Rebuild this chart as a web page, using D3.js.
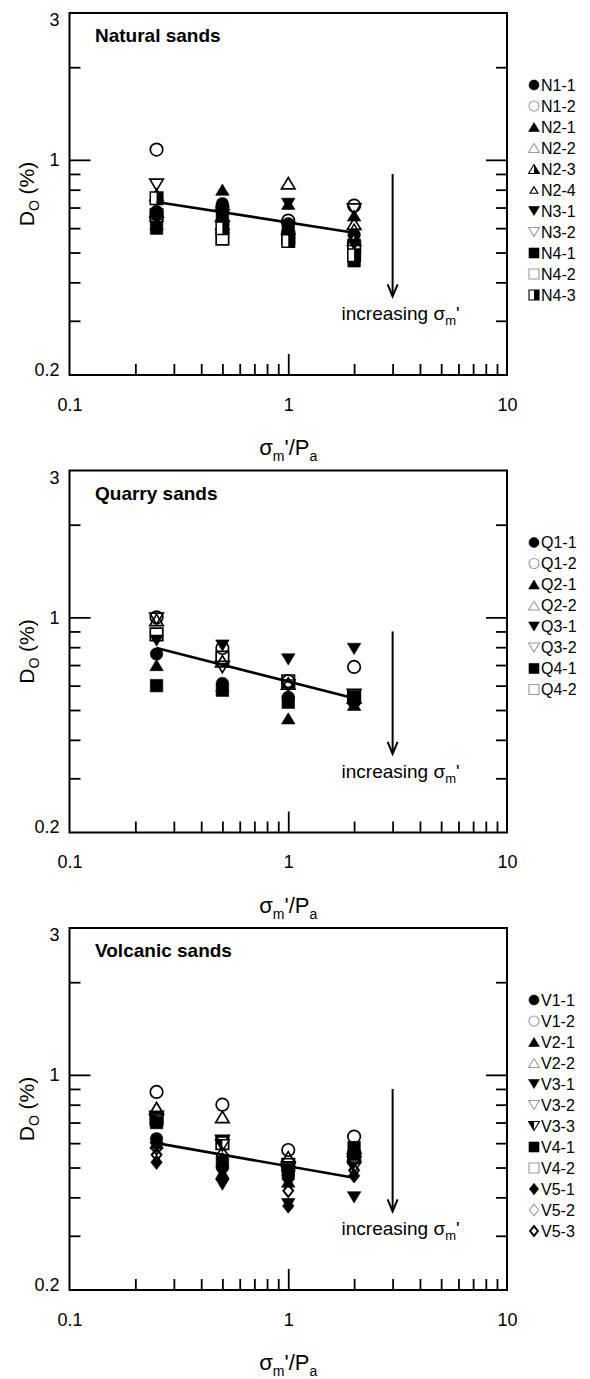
<!DOCTYPE html>
<html>
<head>
<meta charset="utf-8">
<script src="https://cdn.jsdelivr.net/npm/d3@7"></script>
<style>
  html, body { margin: 0; padding: 0; background: #fff; }
  svg { display: block; font-family: "Liberation Sans", Arial, Helvetica, sans-serif; }
</style>
</head>
<body>
<svg id="fig" width="590" height="1379"></svg>
<script>
// Normalised mean effective stress levels used in every test series
const stressLevels = [0.25, 0.5, 1, 2];

// Axis ticks
const xTickLabels = [0.1, 1, 10];
const xMinorTicks = [0.2, 0.3, 0.4, 0.5, 0.6, 0.7, 0.8, 0.9, 2, 3, 4, 5, 6, 7, 8, 9];
const xMajorTicks = [1];
const yTickLabels = [0.2, 1, 3];
const yMinorTicks = [0.3, 0.4, 0.5, 0.6, 0.7, 0.8, 0.9, 2];
const yMajorTicks = [1];

// Trend line end points (at the lowest and highest stress level)
const trendStress = [0.25, 2];

// ---- Natural sands ----
const naturalTitle = "Natural sands";
const naturalNames = ["N1-1", "N1-2", "N2-1", "N2-2", "N2-3", "N2-4", "N3-1", "N3-2", "N4-1", "N4-2", "N4-3"];
const naturalDo = [
  [0.68, 0.72, 0.62, 0.57],
  [1.08, 0.70, 0.635, 0.71],
  [0.62, 0.80, 0.72, 0.66],
  [0.68, 0.66, 0.84, 0.62],
  [0.77, 0.62, 0.60, 0.55],
  [0.66, 0.61, 0.61, 0.60],
  [0.64, 0.68, 0.72, 0.53],
  [0.83, 0.66, 0.60, 0.69],
  [0.60, 0.65, 0.59, 0.47],
  [0.66, 0.555, 0.56, 0.52],
  [0.75, 0.60, 0.545, 0.49]
];
const naturalTrend = [0.73, 0.58];

// ---- Quarry sands ----
const quarryTitle = "Quarry sands";
const quarryNames = ["Q1-1", "Q1-2", "Q2-1", "Q2-2", "Q3-1", "Q3-2", "Q4-1", "Q4-2"];
const quarryDo = [
  [0.76, 0.61, 0.55, 0.53],
  [1.00, 0.795, 0.62, 0.69],
  [0.70, 0.60, 0.47, 0.52],
  [0.98, 0.72, 0.61, 0.55],
  [0.84, 0.81, 0.73, 0.79],
  [0.99, 0.69, 0.60, 0.56],
  [0.60, 0.58, 0.53, 0.55],
  [0.88, 0.74, 0.62, 0.55]
];
const quarryTrend = [0.795, 0.546];

// ---- Volcanic sands ----
const volcanicTitle = "Volcanic sands";
const volcanicNames = ["V1-1", "V1-2", "V2-1", "V2-2", "V3-1", "V3-2", "V3-3", "V4-1", "V4-2", "V5-1", "V5-2", "V5-3"];
const volcanicDo = [
  [0.62, 0.50, 0.47, 0.56],
  [0.88, 0.80, 0.57, 0.63],
  [0.60, 0.48, 0.45, 0.55],
  [0.78, 0.73, 0.54, 0.58],
  [0.58, 0.44, 0.38, 0.40],
  [0.73, 0.61, 0.50, 0.52],
  [0.71, 0.59, 0.48, 0.50],
  [0.70, 0.52, 0.49, 0.58],
  [0.72, 0.60, 0.51, 0.54],
  [0.52, 0.46, 0.375, 0.47],
  [0.58, 0.55, 0.46, 0.53],
  [0.55, 0.53, 0.42, 0.49]
];
const volcanicTrend = [0.60, 0.463];

// Marker style per series: shape-mode
const naturalMarkers = ["circle-full", "circle-open", "tri-full", "tri-open", "tri-half", "tri-small",
                        "dtri-full", "dtri-open", "square-full", "square-open", "square-half"];
const quarryMarkers = ["circle-full", "circle-open", "tri-full", "tri-open", "dtri-full", "dtri-open",
                       "square-full", "square-open"];
const volcanicMarkers = ["circle-full", "circle-open", "tri-full", "tri-open", "dtri-full", "dtri-open",
                         "dtri-half", "square-full", "square-open", "diamond-full", "diamond-open", "diamond-bold"];

// ---------------------------------------------------------------
const svg = d3.select("#fig");
const L = 69.5, R = 507, H = 362;
const panelTops = [13, 470.5, 928];

function shapePath(shape, s) {
  const h = s / 2, t = s * 0.45, w = s * 0.54;
  switch (shape) {
    case "circle": return `M${h},0A${h},${h} 0 1,1 ${-h},0A${h},${h} 0 1,1 ${h},0Z`;
    case "square": return `M${-h},${-h}H${h}V${h}H${-h}Z`;
    case "tri": return `M0,${-t}L${w},${t}L${-w},${t}Z`;
    case "dtri": return `M0,${t}L${w},${-t}L${-w},${-t}Z`;
    case "diamond": return `M0,${-s * 0.58}L${s * 0.46},0L0,${s * 0.58}L${-s * 0.46},0Z`;
  }
}
function halfPath(shape, s) {
  const h = s / 2, t = s * 0.45, w = s * 0.54;
  switch (shape) {
    case "tri": return `M0,${-t}L${w},${t}L0,${t}Z`;
    case "square": return `M0,${-h}H${h}V${h}H0Z`;
    case "dtri": return `M0,${t}L${-w},${-t}L0,${-t}Z`;
  }
}

function drawMarker(g, kind, size, legend) {
  const [shape, mode] = kind.split("-");
  if (mode === "full") {
    g.append("path").attr("d", shapePath(shape, size))
      .attr("fill", "#000").attr("stroke", "#000").attr("stroke-width", 0.6);
  } else if (mode === "open") {
    g.append("path").attr("d", shapePath(shape, size))
      .attr("fill", "none")
      .attr("stroke", legend ? "#9a9a9a" : "#000")
      .attr("stroke-width", legend ? 1.1 : 1.7);
  } else if (mode === "small") {
    g.append("path").attr("d", shapePath(shape, size * 0.72))
      .attr("fill", "none").attr("stroke", "#000").attr("stroke-width", legend ? 1.2 : 1.5);
  } else if (mode === "half") {
    g.append("path").attr("d", shapePath(shape, size))
      .attr("fill", "#fff").attr("stroke", "#000").attr("stroke-width", legend ? 1.1 : 1.5);
    g.append("path").attr("d", halfPath(shape, size)).attr("fill", "#000");
  } else if (mode === "bold") {
    g.append("path").attr("d", shapePath(shape, size * 0.85))
      .attr("fill", legend ? "#fff" : "none").attr("stroke", "#000").attr("stroke-width", 2);
  }
}

function drawPanel(top, title, names, values, markers, trend) {
  const g = svg.append("g");
  const x = d3.scaleLog().domain([0.1, 10]).range([L, R]);
  const y = d3.scaleLog().domain([0.2, 3]).range([top + H, top]);
  const bottom = top + H;

  // inward tick marks on left, right and bottom
  const tickStyle = s => s.call(a => a.select(".domain").remove())
    .selectAll("line").attr("stroke", "#000").attr("stroke-width", 1.8);
  g.append("g").attr("transform", `translate(${L},0)`)
    .call(d3.axisLeft(y).tickValues(yMinorTicks).tickSize(-11).tickFormat(""))
    .call(tickStyle);
  g.append("g").attr("transform", `translate(${L},0)`)
    .call(d3.axisLeft(y).tickValues(yMajorTicks).tickSize(-21).tickFormat(""))
    .call(tickStyle);
  g.append("g").attr("transform", `translate(${R},0)`)
    .call(d3.axisRight(y).tickValues(yMinorTicks).tickSize(-11).tickFormat(""))
    .call(tickStyle);
  g.append("g").attr("transform", `translate(${R},0)`)
    .call(d3.axisRight(y).tickValues(yMajorTicks).tickSize(-21).tickFormat(""))
    .call(tickStyle);
  g.append("g").attr("transform", `translate(0,${bottom})`)
    .call(d3.axisBottom(x).tickValues(xMinorTicks).tickSize(-11).tickFormat(""))
    .call(tickStyle);
  g.append("g").attr("transform", `translate(0,${bottom})`)
    .call(d3.axisBottom(x).tickValues(xMajorTicks).tickSize(-21).tickFormat(""))
    .call(tickStyle);

  // tick labels
  const yl = g.append("g").attr("transform", `translate(${L},0)`)
    .call(d3.axisLeft(y).tickValues(yTickLabels).tickSize(0).tickPadding(10).tickFormat(d3.format("")));
  yl.select(".domain").remove();
  yl.selectAll("text").attr("font-size", 18).attr("fill", "#000")
    .attr("font-family", "'Liberation Sans', Arial, sans-serif")
    .attr("dy", d => d === 3 ? "0.72em" : d === 0.2 ? "0.02em" : "0.34em");
  const xl = g.append("g").attr("transform", `translate(0,${bottom})`)
    .call(d3.axisBottom(x).tickValues(xTickLabels).tickSize(0).tickPadding(23).tickFormat(d3.format("")));
  xl.select(".domain").remove();
  xl.selectAll("text").attr("font-size", 18).attr("fill", "#000")
    .attr("font-family", "'Liberation Sans', Arial, sans-serif");

  // frame
  g.append("rect").attr("x", L).attr("y", top).attr("width", R - L).attr("height", H)
    .attr("fill", "none").attr("stroke", "#000").attr("stroke-width", 2);

  // title
  g.append("text").attr("x", 95).attr("y", top + 29)
    .attr("font-size", 19).attr("font-weight", "bold").text(title);

  // data markers
  names.forEach((name, i) => {
    values[i].forEach((v, j) => {
      const m = g.append("g").attr("transform", `translate(${x(stressLevels[j])},${y(v)})`);
      drawMarker(m, markers[i], 12.5, false);
    });
  });

  // trend line
  const line = d3.line().x(d => x(d[0])).y(d => y(d[1]));
  g.append("path").datum(d3.zip(trendStress, trend)).attr("d", line)
    .attr("fill", "none").attr("stroke", "#000").attr("stroke-width", 2.6);

  // arrow annotation
  const ax = x(3), ay0 = y(0.9), ay1 = y(0.36);
  g.append("line").attr("x1", ax).attr("x2", ax).attr("y1", ay0).attr("y2", ay1)
    .attr("stroke", "#000").attr("stroke-width", 2);
  g.append("path").attr("d", `M${ax - 5},${ay1 - 12}L${ax},${ay1}L${ax + 5},${ay1 - 12}`)
    .attr("fill", "none").attr("stroke", "#000").attr("stroke-width", 2);
  const at = g.append("text").attr("x", ax + 8).attr("y", ay1 + 24)
    .attr("text-anchor", "middle").attr("font-size", 19);
  at.append("tspan").text("increasing σ");
  at.append("tspan").attr("font-size", 13).attr("dy", 5).text("m");
  at.append("tspan").attr("dy", -5).text("'");

  // legend
  names.forEach((name, i) => {
    const ly = top + 72 + i * 21;
    const m = g.append("g").attr("transform", `translate(534,${ly})`);
    drawMarker(m, markers[i], 10, true);
    g.append("text").attr("x", 541).attr("y", ly).attr("dy", "0.36em")
      .attr("font-size", 16).text(name);
  });

  // axis titles
  const yt = g.append("text").attr("transform", `translate(34,${top + H / 2}) rotate(-90)`)
    .attr("text-anchor", "middle").attr("font-size", 21);
  yt.append("tspan").text("D");
  yt.append("tspan").attr("font-size", 14).attr("dy", 5).text("O");
  yt.append("tspan").attr("dy", -5).text(" (%)");

  const xt = g.append("text").attr("x", (L + R) / 2).attr("y", top + 442)
    .attr("text-anchor", "middle").attr("font-size", 22);
  xt.append("tspan").text("σ");
  xt.append("tspan").attr("font-size", 14).attr("dy", 6).text("m");
  xt.append("tspan").attr("dy", -6).text("'/P");
  xt.append("tspan").attr("font-size", 14).attr("dy", 6).text("a");
}

drawPanel(panelTops[0], naturalTitle, naturalNames, naturalDo, naturalMarkers, naturalTrend);
drawPanel(panelTops[1], quarryTitle, quarryNames, quarryDo, quarryMarkers, quarryTrend);
drawPanel(panelTops[2], volcanicTitle, volcanicNames, volcanicDo, volcanicMarkers, volcanicTrend);
</script>
</body>
</html>
